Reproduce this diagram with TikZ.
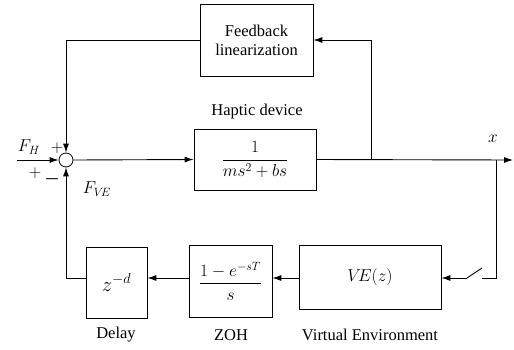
\documentclass[tikz,border=0pt]{standalone}
\usepackage{amsmath}
\usepackage{fontspec}
\setmainfont{Liberation Serif}
\usetikzlibrary{calc,arrows.meta}

\tikzset{
  blk/.style={draw, line width=0.8pt, inner sep=0pt, align=center},
  sig/.style={line width=0.9pt, -{Latex[length=9pt,width=6pt]}},
  wire/.style={line width=0.9pt},
  lbl/.style={font=\fontsize{16.5}{19}\selectfont},
  mth/.style={font=\fontsize{18.5}{22}\selectfont}
}

\begin{document}
\begin{tikzpicture}[x=1pt, y=-1pt, font=\fontsize{16.5}{19}\selectfont]
        \useasboundingbox (0,0) rectangle (514,349);

        % summing junction
        \node[draw, circle, line width=0.8pt, minimum size=14pt, inner sep=0pt] (sum) at (66, 160) {};

        % blocks
        \node[blk, minimum width=113pt, minimum height=72pt] (fbl) at (256.5, 40) {Feedback\\linearization};
        \node[blk, mth, minimum width=122pt, minimum height=61pt] (plant) at (255, 159.5) {$\dfrac{1}{ms^2+bs}$};
        \node[blk, font=\fontsize{20.74}{24}\selectfont, minimum width=61pt, minimum height=71pt] (delay) at (116.5, 282.5) {$z^{-d}$};
        \node[blk, mth, minimum width=83pt, minimum height=72pt] (zoh) at (230.5, 281) {$\dfrac{1-e^{-sT}}{s}$};
        \node[blk, mth, minimum width=142pt, minimum height=64pt] (ve) at (370, 277) {$V\!E(z)$};

        % captions
        \node[lbl] (capplant) at (257, 112) {Haptic device};
        \node[lbl] (capdelay) at (116, 335) {Delay};
        \node[lbl] (capzoh) at (231, 335) {ZOH};
        \node[lbl] (capve) at (370, 335) {Virtual Environment};

        % signal labels
        \node[mth] (fh) at (29, 147) {$F_H$};
        \node[mth] (fve) at (97, 189) {$F_{V\!E}$};
        \node[mth] (xout) at (493, 139) {$x$};
        \node (ptop) at (57, 148) {$+$};
        \node (pbot) at (35, 173) {$+$};
        \node (mbot) at (52, 179) {$\boldsymbol{-}$};

        % helper points
        \coordinate (in) at (17, 160);
        \coordinate (out) at (513, 160);
        \coordinate (tap) at (371, 160);
        \coordinate (rtap) at (496, 160);
        \coordinate (swa) at (467, 278);
        \coordinate (swb) at (482, 268);
        \coordinate (swc) at (482, 278);

        % forward path
        \draw[sig] (in) -- (sum.west);
        \draw[sig] (sum.east) -- (plant.west);
        \draw[sig] (plant.east) -- (out);

        % feedback linearization loop
        \draw[sig] (tap) |- (fbl.east);
        \draw[sig] (fbl.west) -| (sum.north);

        % virtual environment loop
        \draw[wire] (rtap) |- (swc);
        \draw[wire] (swb) -- (swa);
        \draw[sig] (swa) -- (ve.east |- swa);
        \draw[sig] (ve.west |- swa) -- (zoh.east |- swa);
        \draw[sig] (zoh.west |- swa) -- (delay.east |- swa);
        \draw[sig] (delay.west |- swa) -| (sum.south);
    \end{tikzpicture}
\end{document}
